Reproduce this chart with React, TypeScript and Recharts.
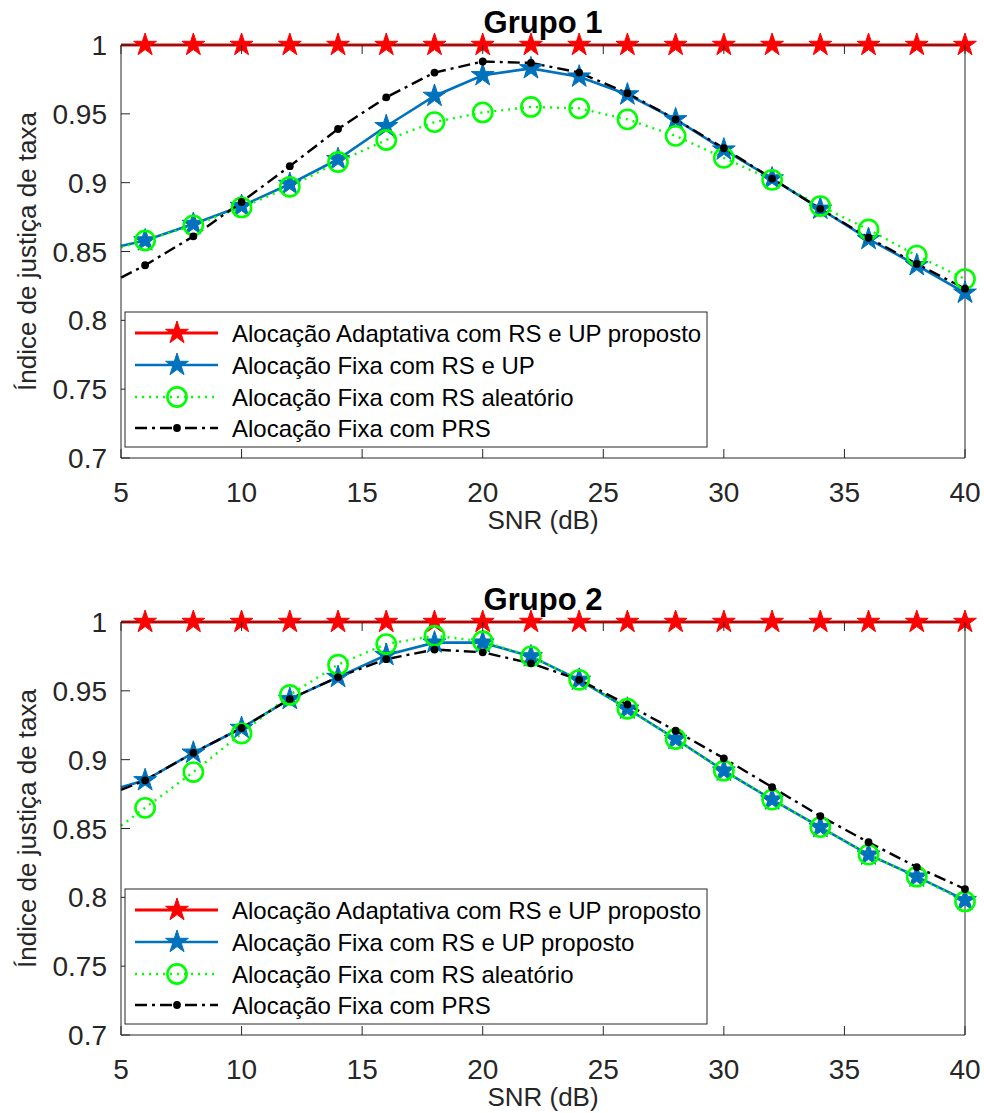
import { Line, LineChart, XAxis, YAxis } from "recharts";

// SNR (dB) — the x=5 entry is where the lines enter the axes, it carries no marker
const snr = [5, 6, 8, 10, 12, 14, 16, 18, 20, 22, 24, 26, 28, 30, 32, 34, 36, 38, 40];

// Grupo 1
const adaptive1 = [1, 1, 1, 1, 1, 1, 1, 1, 1, 1, 1, 1, 1, 1, 1, 1, 1, 1, 1];
const fixed1 = [0.854, 0.858, 0.87, 0.883, 0.899, 0.917, 0.941, 0.963, 0.978, 0.983, 0.977, 0.964, 0.946, 0.924, 0.903, 0.881, 0.859, 0.84, 0.82];
const random1 = [0.853, 0.858, 0.869, 0.882, 0.897, 0.915, 0.931, 0.944, 0.951, 0.955, 0.954, 0.946, 0.934, 0.918, 0.902, 0.883, 0.866, 0.847, 0.83];
const prs1 = [0.831, 0.84, 0.861, 0.886, 0.912, 0.939, 0.962, 0.98, 0.988, 0.987, 0.98, 0.965, 0.946, 0.925, 0.903, 0.881, 0.86, 0.841, 0.823];

// Grupo 2
const adaptive2 = [1, 1, 1, 1, 1, 1, 1, 1, 1, 1, 1, 1, 1, 1, 1, 1, 1, 1, 1];
const fixed2 = [0.88, 0.885, 0.905, 0.923, 0.944, 0.96, 0.976, 0.985, 0.985, 0.975, 0.958, 0.937, 0.915, 0.892, 0.871, 0.851, 0.831, 0.815, 0.798];
const random2 = [0.852, 0.865, 0.891, 0.919, 0.947, 0.969, 0.984, 0.99, 0.986, 0.975, 0.958, 0.937, 0.915, 0.892, 0.871, 0.851, 0.831, 0.815, 0.797];
const prs2 = [0.878, 0.885, 0.905, 0.923, 0.944, 0.96, 0.973, 0.98, 0.978, 0.97, 0.958, 0.94, 0.921, 0.901, 0.88, 0.859, 0.84, 0.822, 0.806];

const xTicks = [5, 10, 15, 20, 25, 30, 35, 40];
const yTicks = [0.7, 0.75, 0.8, 0.85, 0.9, 0.95, 1];

const legend1 = [
  "Alocação Adaptativa com RS e UP proposto",
  "Alocação Fixa com RS e UP",
  "Alocação Fixa com RS aleatório",
  "Alocação Fixa com PRS",
];
const legend2 = [
  "Alocação Adaptativa com RS e UP proposto",
  "Alocação Fixa com RS e UP proposto",
  "Alocação Fixa com RS aleatório",
  "Alocação Fixa com PRS",
];

const FONT = '"Liberation Sans", Arial, Helvetica, sans-serif';
const AXIS = "#262626";
const RED = "#ff0000";
const BLUE = "#0072bd";
const GREEN = "#00ff00";

const W = 984;
const H = 536;

function starPath(cx: number, cy: number, R: number) {
  const r = R * 0.382;
  let d = "";
  for (let i = 0; i < 10; i++) {
    const a = -Math.PI / 2 + (i * Math.PI) / 5;
    const rad = i % 2 === 0 ? R : r;
    d += (i === 0 ? "M" : "L") + (cx + rad * Math.cos(a)).toFixed(2) + "," + (cy + rad * Math.sin(a)).toFixed(2);
  }
  return d + "Z";
}

const Star = ({ x, y, color }: { x: number; y: number; color: string }) => (
  <path d={starPath(x, y, 12)} fill={color} stroke={color} strokeWidth={1} strokeLinejoin="miter" />
);
const Ring = ({ x, y }: { x: number; y: number }) => (
  <circle cx={x} cy={y} r={9.6} fill="none" stroke={GREEN} strokeWidth={2.6} />
);
const Dot = ({ x, y }: { x: number; y: number }) => <circle cx={x} cy={y} r={3.9} fill="#000" />;

// markers on every point except the first (x = 5)
const marker = (kind: string) => (p: any) => {
  const { cx, cy, index } = p;
  if (index === 0 || cx == null || cy == null) return <g key={`m${index}`} />;
  if (kind === "red") return <Star key={`m${index}`} x={cx} y={cy} color={RED} />;
  if (kind === "blue") return <Star key={`m${index}`} x={cx} y={cy} color={BLUE} />;
  if (kind === "green") return <Ring key={`m${index}`} x={cx} y={cy} />;
  return <Dot key={`m${index}`} x={cx} y={cy} />;
};

const fmt = (v: number) => String(Number(v.toFixed(2)));

const BottomTick = ({ x, y, payload }: any) => (
  <g>
    <line x1={x} x2={x} y1={y} y2={y - 9} stroke={AXIS} />
    <text x={x} y={y + 44} textAnchor="middle" fontSize={28} fill={AXIS} fontFamily={FONT}>
      {payload.value}
    </text>
  </g>
);
const TopTick = ({ x, y }: any) => <line x1={x} x2={x} y1={y} y2={y + 9} stroke={AXIS} />;
const LeftTick = ({ x, y, payload }: any) => (
  <g>
    <line x1={x} x2={x + 9} y1={y} y2={y} stroke={AXIS} />
    <text x={x - 14} y={y + 10} textAnchor="end" fontSize={28} fill={AXIS} fontFamily={FONT}>
      {fmt(payload.value)}
    </text>
  </g>
);
const RightTick = ({ x, y }: any) => <line x1={x} x2={x - 9} y1={y} y2={y} stroke={AXIS} />;

const series = [
  { key: "adaptive", color: RED, width: 3, dash: undefined, kind: "red" },
  { key: "fixed", color: BLUE, width: 2.6, dash: undefined, kind: "blue" },
  { key: "random", color: GREEN, width: 2.4, dash: "2 5", kind: "green" },
  { key: "prs", color: "#000", width: 2.4, dash: "12 5 3 5", kind: "black" },
];

function LegendBox({ names }: { names: string[] }) {
  const rowY = [333, 365, 397, 428];
  return (
    <g>
      <rect x={125} y={312} width={582} height={135} fill="#fff" stroke={AXIS} strokeWidth={1} />
      {series.map((s, i) => {
        const y = rowY[i];
        return (
          <g key={s.key}>
            <line x1={135} x2={218} y1={y} y2={y} stroke={s.color} strokeWidth={s.width} strokeDasharray={s.dash} />
            {s.kind === "red" && <Star x={177} y={y} color={RED} />}
            {s.kind === "blue" && <Star x={177} y={y} color={BLUE} />}
            {s.kind === "green" && <Ring x={177} y={y} />}
            {s.kind === "black" && <Dot x={177} y={y} />}
            <text x={232} y={y + 8.5} fontSize={24} fill="#000" fontFamily={FONT}>
              {names[i]}
            </text>
          </g>
        );
      })}
    </g>
  );
}

function Panel({
  top,
  title,
  adaptive,
  fixed,
  random,
  prs,
  names,
}: {
  top: number;
  title: string;
  adaptive: number[];
  fixed: number[];
  random: number[];
  prs: number[];
  names: string[];
}) {
  const data = snr.map((x, i) => ({
    snr: x,
    adaptive: adaptive[i],
    fixed: fixed[i],
    random: random[i],
    prs: prs[i],
  }));

  return (
    <div style={{ position: "absolute", left: 0, top, width: W, height: H }}>
      <LineChart width={W} height={H} data={data} margin={{ top: 0, right: 0, bottom: 0, left: 0 }}>
        <XAxis
          xAxisId="b"
          dataKey="snr"
          type="number"
          domain={[5, 40]}
          ticks={xTicks}
          height={78}
          tickSize={0}
          tickMargin={0}
          tickLine={false}
          axisLine={{ stroke: AXIS }}
          tick={<BottomTick />}
          interval={0}
        />
        <XAxis
          xAxisId="t"
          orientation="top"
          dataKey="snr"
          type="number"
          domain={[5, 40]}
          ticks={xTicks}
          height={45}
          tickSize={0}
          tickMargin={0}
          tickLine={false}
          axisLine={{ stroke: AXIS }}
          tick={<TopTick />}
          interval={0}
        />
        <YAxis
          yAxisId="l"
          type="number"
          domain={[0.7, 1]}
          ticks={yTicks}
          width={121}
          tickSize={0}
          tickMargin={0}
          tickLine={false}
          axisLine={{ stroke: AXIS }}
          tick={<LeftTick />}
          interval={0}
        />
        <YAxis
          yAxisId="r"
          orientation="right"
          type="number"
          domain={[0.7, 1]}
          ticks={yTicks}
          width={19}
          tickSize={0}
          tickMargin={0}
          tickLine={false}
          axisLine={{ stroke: AXIS }}
          tick={<RightTick />}
          interval={0}
        />
        {series.map((s) => (
          <Line
            key={s.key}
            xAxisId="b"
            yAxisId="l"
            type="linear"
            dataKey={s.key}
            stroke={s.color}
            strokeWidth={s.width}
            strokeDasharray={s.dash}
            dot={marker(s.kind)}
            activeDot={false}
            isAnimationActive={false}
          />
        ))}
      </LineChart>
      <svg
        width={W}
        height={H}
        style={{ position: "absolute", left: 0, top: 0, pointerEvents: "none" }}
        fontFamily={FONT}
      >
        <text x={543} y={33} textAnchor="middle" fontSize={31} fontWeight="bold" fill="#000">
          {title}
        </text>
        <text x={543} y={529} textAnchor="middle" fontSize={26} fill={AXIS}>
          SNR (dB)
        </text>
        <text transform="translate(36,251.5) rotate(-90)" textAnchor="middle" fontSize={26} fill={AXIS}>
          Índice de justiça de taxa
        </text>
        <LegendBox names={names} />
      </svg>
    </div>
  );
}

export default function App() {
  return (
    <div style={{ position: "absolute", left: 0, top: 0, width: W, height: 1113, background: "#fff" }}>
      <Panel top={0} title="Grupo 1" adaptive={adaptive1} fixed={fixed1} random={random1} prs={prs1} names={legend1} />
      <Panel top={577} title="Grupo 2" adaptive={adaptive2} fixed={fixed2} random={random2} prs={prs2} names={legend2} />
    </div>
  );
}
